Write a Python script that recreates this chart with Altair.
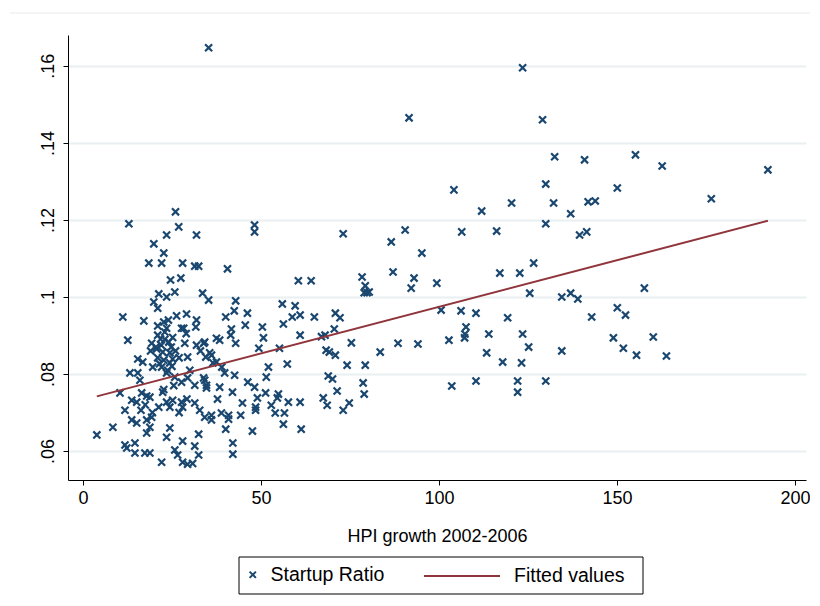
import altair as alt
import pandas as pd

# HPI growth 2002-2006 (x) and Startup Ratio (y)
hpi = [
    35.3, 123.5, 91.6, 129.1, 132.5, 140.9, 155.2, 162.7, 192.4, 104.2,
    130.0, 150.1, 176.5, 120.4, 132.2, 141.9, 143.9, 112.0, 137.0, 130.0,
    139.5, 141.5, 86.6, 90.5, 95.2, 106.4, 116.2, 87.1, 93.0, 92.2,
    99.4, 117.1, 122.7, 126.6, 125.5, 134.5, 137.0, 139.0, 80.4, 157.7,
    100.6, 106.2, 110.4, 119.3, 107.6, 107.3, 107.2, 114.0, 123.5, 102.8,
    88.5, 94.1, 83.5, 113.4, 125.2, 134.5, 117.9, 123.2, 103.6, 110.4,
    122.1, 122.1, 130.0, 150.1, 142.9, 152.4, 149.0, 160.2, 151.8, 155.5,
    163.9, 73.1, 48.2, 48.2, 40.6, 60.5, 64.1, 78.4, 79.3, 79.0,
    79.8, 42.9, 42.5, 46.2, 40.1, 56.0, 59.6, 58.8, 61.0, 65.0,
    70.9, 72.2, 45.6, 50.4, 56.3, 41.7, 70.6, 50.7, 61.0, 38.4,
    33.9, 42.9, 41.5, 68.0, 67.0, 75.4, 49.4, 55.2, 68.3, 69.2,
    70.9, 34.5, 36.1, 36.5, 52.1, 57.4, 74.2, 79.3, 39.0, 33.9,
    39.8, 42.6, 51.5, 46.3, 48.2, 68.9, 70.1, 78.7, 79.0, 71.4,
    34.7, 34.7, 38.4, 42.0, 51.3, 54.9, 49.0, 54.6, 61.0, 67.5,
    74.8, 37.8, 44.8, 48.5, 52.9, 57.7, 68.6, 73.1, 48.5, 54.0,
    56.6, 38.9, 40.9, 44.3, 40.9, 36.1, 56.3, 40.1, 47.6, 61.3,
    42.1, 42.1, 26.0, 12.9, 26.9, 23.5, 31.9, 19.9, 22.7, 18.5,
    22.1, 28.0, 31.4, 32.5, 24.6, 27.5, 21.3, 23.5, 25.8, 19.9,
    21.0, 33.6, 35.3, 11.2, 17.1, 22.7, 26.3, 29.1, 31.9, 23.5,
    27.7, 28.3, 31.7, 12.6, 19.3, 21.0, 23.0, 21.8, 24.1, 28.6,
    31.9, 34.2, 37.5, 20.7, 22.4, 24.4, 15.4, 16.8, 21.0, 22.7,
    24.4, 25.2, 29.4, 35.6, 37.5, 19.6, 22.1, 23.8, 13.2, 15.4,
    23.5, 25.8, 27.7, 29.4, 31.4, 34.2, 16.0, 10.4, 13.7, 15.1,
    16.5, 17.9, 18.8, 22.4, 23.5, 24.4, 21.3, 25.2, 27.7, 28.0,
    31.4, 32.8, 34.2, 36.1, 11.8, 13.7, 15.1, 17.9, 19.3, 8.4,
    3.9, 17.9, 18.8, 23.5, 24.4, 28.0, 32.5, 31.4, 11.8, 12.3,
    14.6, 14.6, 17.4, 18.8, 22.1, 25.8, 26.6, 28.0, 29.4, 30.8,
    32.5, 20.5, 22.0, 23.0, 24.8, 26.0, 19.0, 21.5, 25.0, 17.5,
    19.5, 22.7, 25.5, 27.0, 29.2, 16.3, 30.0, 33.0, 27.0, 29.0,
    25.2, 24.0, 21.0,
]
ratio = [
    0.1647, 0.1595, 0.1465, 0.1460, 0.1364, 0.1356, 0.1369, 0.1340, 0.1330, 0.1278,
    0.1293, 0.1283, 0.1255, 0.1244, 0.1244, 0.1247, 0.1249, 0.1223, 0.1216, 0.1190,
    0.1161, 0.1169, 0.1143, 0.1174, 0.1114, 0.1169, 0.1171, 0.1065, 0.1049, 0.1023,
    0.1036, 0.1062, 0.1062, 0.1088, 0.1010, 0.1000, 0.1010, 0.0995, 0.1013, 0.1023,
    0.0966, 0.0964, 0.0958, 0.0946, 0.0922, 0.0904, 0.0894, 0.0904, 0.0904, 0.0888,
    0.0880, 0.0878, 0.0857, 0.0855, 0.0870, 0.0860, 0.0831, 0.0829, 0.0769, 0.0782,
    0.0782, 0.0753, 0.0782, 0.0972, 0.0948, 0.0953, 0.0894, 0.0896, 0.0867, 0.0849,
    0.0847, 0.1164, 0.1187, 0.1169, 0.1073, 0.1042, 0.1042, 0.1052, 0.1029, 0.1011,
    0.1011, 0.0990, 0.0964, 0.0958, 0.0948, 0.0982, 0.0977, 0.0948, 0.0953, 0.0948,
    0.0958, 0.0946, 0.0927, 0.0922, 0.0930, 0.0917, 0.0917, 0.0894, 0.0901, 0.0888,
    0.0880, 0.0880, 0.0901, 0.0901, 0.0897, 0.0881, 0.0867, 0.0867, 0.0862, 0.0857,
    0.0849, 0.0844, 0.0849, 0.0829, 0.0818, 0.0826, 0.0823, 0.0823, 0.0818, 0.0790,
    0.0803, 0.0797, 0.0792, 0.0779, 0.0766, 0.0795, 0.0787, 0.0777, 0.0748, 0.0756,
    0.0771, 0.0764, 0.0766, 0.0753, 0.0751, 0.0748, 0.0738, 0.0738, 0.0727, 0.0738,
    0.0725, 0.0735, 0.0725, 0.0714, 0.0719, 0.0727, 0.0719, 0.0706, 0.0706, 0.0699,
    0.0699, 0.0699, 0.0693, 0.0693, 0.0683, 0.0681, 0.0670, 0.0657, 0.0652, 0.0657,
    0.0621, 0.0592, 0.1221, 0.1190, 0.1182, 0.1161, 0.1161, 0.1138, 0.1114, 0.1088,
    0.1088, 0.1088, 0.1080, 0.1080, 0.1044, 0.1049, 0.1008, 0.1000, 0.1013, 0.0987,
    0.0971, 0.1010, 0.0992, 0.0948, 0.0938, 0.0935, 0.0951, 0.0956, 0.0940, 0.0919,
    0.0919, 0.0919, 0.0922, 0.0888, 0.0880, 0.0901, 0.0909, 0.0891, 0.0883, 0.0880,
    0.0875, 0.0883, 0.0893, 0.0865, 0.0857, 0.0855, 0.0839, 0.0831, 0.0842, 0.0836,
    0.0829, 0.0839, 0.0844, 0.0855, 0.0831, 0.0818, 0.0818, 0.0810, 0.0803, 0.0803,
    0.0803, 0.0792, 0.0779, 0.0790, 0.0771, 0.0784, 0.0784, 0.0751, 0.0732, 0.0727,
    0.0751, 0.0743, 0.0740, 0.0753, 0.0727, 0.0714, 0.0714, 0.0732, 0.0727, 0.0714,
    0.0725, 0.0706, 0.0688, 0.0693, 0.0706, 0.0681, 0.0673, 0.0681, 0.0688, 0.0662,
    0.0642, 0.0647, 0.0662, 0.0636, 0.0660, 0.0626, 0.0644, 0.0613, 0.0616, 0.0608,
    0.0621, 0.0595, 0.0595, 0.0595, 0.0571, 0.0603, 0.0590, 0.0571, 0.0566, 0.0568,
    0.0590, 0.0870, 0.0875, 0.0890, 0.0870, 0.0860, 0.0860, 0.0827, 0.0820, 0.0720,
    0.0700, 0.0760, 0.0770, 0.0700, 0.0735, 0.0706, 0.0810, 0.0860, 0.0842, 0.0905,
    0.0895, 0.0940, 0.0925,
]

# Fitted values (linear fit) read at the ends of the drawn line
fit_hpi = [3.9, 192.4]
fit_ratio = [0.0742, 0.1198]

x_ticks = [0, 50, 100, 150, 200]
y_ticks = [0.06, 0.08, 0.1, 0.12, 0.14, 0.16]
series_names = ["Startup Ratio", "Fitted values"]

df = pd.DataFrame({"hpi": hpi, "ratio": ratio})
df["s1"] = series_names[0]
fit_df = pd.DataFrame({"hpi": fit_hpi, "ratio": fit_ratio})
fit_df["s2"] = series_names[1]

NAVY = "#1a476f"
MAROON = "#90353b"
X_SHAPE = "M-1,-1L1,1M1,-1L-1,1"
FONT = "Liberation Sans"

xscale = alt.Scale(domain=[-4.2, 203.1], nice=False, zero=False)
yscale = alt.Scale(domain=[0.0525, 0.168], nice=False, zero=False)

points = alt.Chart(df).mark_point(
    filled=False, size=50, strokeWidth=2.2, color=NAVY, opacity=1
).encode(
    x=alt.X("hpi:Q", scale=xscale,
            axis=alt.Axis(values=x_ticks, title="HPI growth 2002-2006", grid=False,
                          labelPadding=4, titlePadding=20)),
    y=alt.Y("ratio:Q", scale=yscale,
            axis=alt.Axis(values=y_ticks, title=None, grid=True,
                          labelExpr="substring(toString(datum.value), 1)",
                          labelAngle=270, labelAlign="center", labelBaseline="bottom",
                          labelPadding=6)),
    shape=alt.Shape("s1:N", scale=alt.Scale(domain=[series_names[0]], range=[X_SHAPE]),
                    legend=alt.Legend(orient="none", legendX=175, legendY=530, title=None,
                                      symbolSize=40, symbolStrokeColor=NAVY,
                                      symbolFillColor="transparent", symbolStrokeWidth=2,
                                      labelOffset=8, padding=0)),
)

fit = alt.Chart(fit_df).mark_line(strokeWidth=2).encode(
    x=alt.X("hpi:Q", scale=xscale),
    y=alt.Y("ratio:Q", scale=yscale),
    color=alt.Color("s2:N", scale=alt.Scale(domain=[series_names[1]], range=[MAROON]),
                    legend=alt.Legend(orient="none", legendX=355, legendY=502, title=None,
                                      symbolType="stroke", symbolSize=5776,
                                      symbolStrokeWidth=2, labelOffset=13, padding=0)),
)

box = alt.Chart(pd.DataFrame({"a": [0]})).mark_rect(
    fillOpacity=0, stroke="black", strokeWidth=1
).encode(
    x=alt.value(171), x2=alt.value(575), y=alt.value(522), y2=alt.value(559)
)

topline = alt.Chart(pd.DataFrame({"a": [0]})).mark_rule(
    color="#e6eaec", strokeWidth=1
).encode(
    x=alt.value(-58), x2=alt.value(752), y=alt.value(-22)
)

chart = alt.layer(topline, points, fit, box).properties(
    width=738, height=445,
    autosize=alt.AutoSizeParams(type="none"),
    padding={"left": 60, "top": 27, "right": 4, "bottom": 116},
    background="white",
).configure_view(
    stroke="transparent"
).configure_axis(
    domainColor="black", domainWidth=1, tickColor="black", tickSize=5, tickWidth=1,
    labelFont=FONT, labelFontSize=18, labelColor="black",
    titleFont=FONT, titleFontSize=18, titleFontWeight="normal", titleColor="black",
    gridColor="#eaf0f2", gridWidth=2,
).configure_legend(
    labelFont=FONT, labelFontSize=19.5, labelColor="black"
)

chart.save("out.html", embed_options={"renderer": "svg", "actions": False})
